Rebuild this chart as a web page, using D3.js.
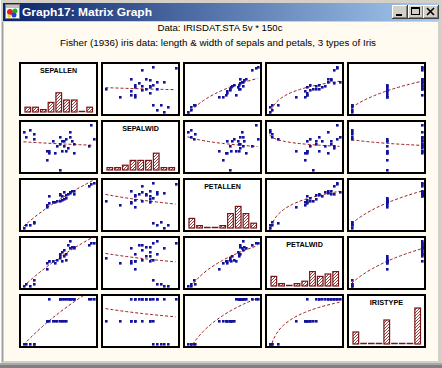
<!DOCTYPE html>
<html><head><meta charset="utf-8">
<script src="https://cdn.jsdelivr.net/npm/d3@7"></script>
<style>html,body{margin:0;padding:0;background:#fff;overflow:hidden}</style>
</head><body>
<svg id="c" width="442" height="368"></svg>
<script>
// ---------- data ----------
const varNames  = ["SEPALLEN","SEPALWID","PETALLEN","PETALWID","IRISTYPE"];
const sepalLen  = [4.4,4.5,4.7,4.9,4.9, 5.5,5.5,5.6,5.8,5.9,6.0,6.1,6.2,6.3,6.4, 5.6,6.1,6.1,6.2,6.3,6.4,6.6,6.7,6.8,6.8,7.5,7.6,7.7,6.6,6.5];
const sepalWid  = [3.8,3.6,3.9,3.5,3.7, 3.0,2.6,2.9,3.4,2.9,3.2,2.2,3.0,3.4,3.5, 3.0,3.3,3.6,3.4,3.2,3.0,3.8,3.4,3.3,2.9,3.2,4.1,3.5,3.6,3.1];
const petalLen  = [1.4,1.7,1.7,1.9,2.0, 3.8,4.1,4.3,4.4,4.4,4.6,4.6,4.7,4.8,4.9, 5.1,5.3,5.4,5.2,5.6,5.3,5.5,5.7,5.4,5.8,6.3,6.6,6.7,5.6,5.4];
const petalWid  = [0.1,0.2,0.1,0.4,0.2, 1.0,1.3,1.4,1.4,1.3,1.5,1.6,1.4,1.7,1.5, 1.4,1.7,1.8,1.9,2.0,1.8,2.1,2.2,2.2,2.1,2.3,2.4,2.4,2.5,2.3];
const irisType  = [1,1,1,1,1, 2,2,2,2,2,2,2,2,2,2, 3,3,3,3,3,3,3,3,3,3,3,3,3,3,3];
// histogram counts (9 bins each)
const histSepalLen = [2,2,1,4,8,5,5,0,2];
const histSepalWid = [1,1,2,4,4,4,7,1,1];
const histPetalLen = [4,1,0,0,1,6,9,6,2];
const histPetalWid = [4,1,0,1,2,6,4,5,6];
const histIrisType = [5,0,0,0,10,0,0,0,15];
const windowTitle = "Graph17: Matrix Graph";
const subTitle1 = "Data: IRISDAT.STA 5v * 150c";
const subTitle2 = "Fisher (1936) iris data: length & width of sepals and petals, 3 types of Iris";

// ---------- drawing ----------
const vars  = [sepalLen, sepalWid, petalLen, petalWid, irisType];
const hists = [histSepalLen, histSepalWid, histPetalLen, histPetalWid, histIrisType];
const labelLen = [37, 36.7, 36.7, 36.7, 33.3];

const svg = d3.select("#c");
const defs = svg.append("defs");
const grad = defs.append("linearGradient").attr("id","tb");
grad.append("stop").attr("offset","0%").attr("stop-color","#0a246a");
grad.append("stop").attr("offset","100%").attr("stop-color","#a6caf0");
const pat = defs.append("pattern").attr("id","hatch").attr("patternUnits","userSpaceOnUse")
  .attr("width",3).attr("height",3);
pat.append("rect").attr("width",3).attr("height",3).attr("fill","#fff");
pat.append("path").attr("d","M-1,1 L1,-1 M0,3 L3,0 M2,4 L4,2")
  .attr("stroke","#8a2a2a").attr("stroke-width",0.9);

// window frame
svg.append("rect").attr("width",442).attr("height",368).attr("fill","#d4d0c8");
svg.append("line").attr("x1",0.5).attr("y1",0).attr("x2",0.5).attr("y2",368).attr("stroke","#ffffff");
svg.append("line").attr("x1",2.5).attr("y1",22).attr("x2",2.5).attr("y2",362).attr("stroke","#a0a0a0");
svg.append("rect").attr("x",3).attr("y",3).attr("width",436).attr("height",18).attr("fill","url(#tb)");
svg.append("rect").attr("x",4).attr("y",22).attr("width",434).attr("height",339).attr("fill","#fffbf0");
svg.append("rect").attr("x",0).attr("y",363).attr("width",442).attr("height",2).attr("fill","#a8a8a8");
svg.append("rect").attr("x",0).attr("y",365).attr("width",442).attr("height",3).attr("fill","#808080");

// icon
const ic = svg.append("g").attr("transform","translate(5,4)");
ic.append("rect").attr("x",0.5).attr("y",0.5).attr("width",14).attr("height",14).attr("fill","#ffffff").attr("stroke","#808080");
ic.append("rect").attr("x",1).attr("y",1).attr("width",13).attr("height",3).attr("fill","#c0c0c0");
ic.append("circle").attr("cx",5).attr("cy",8).attr("r",3).attr("fill","#e02020");
ic.append("circle").attr("cx",10).attr("cy",7).attr("r",2.5).attr("fill","#20b020");
ic.append("circle").attr("cx",9).attr("cy",11).attr("r",2.5).attr("fill","#2040e0");
ic.append("circle").attr("cx",4).attr("cy",12).attr("r",1.8).attr("fill","#f0d020");

svg.append("text").attr("x",22).attr("y",16).attr("fill","#ffffff")
  .attr("font-family","Liberation Sans, Arial, sans-serif").attr("font-weight","bold")
  .attr("font-size",11).attr("textLength",130).attr("lengthAdjust","spacingAndGlyphs").text(windowTitle);

// caption buttons
function btn(x, kind){
  const g = svg.append("g").attr("transform",`translate(${x},5)`);
  g.append("rect").attr("width",16).attr("height",14).attr("fill","#404040");
  g.append("rect").attr("width",15).attr("height",13).attr("fill","#ffffff");
  g.append("rect").attr("x",1).attr("y",1).attr("width",14).attr("height",12).attr("fill","#808080");
  g.append("rect").attr("x",1).attr("y",1).attr("width",13).attr("height",11).attr("fill","#d4d0c8");
  if (kind==="min") g.append("rect").attr("x",4).attr("y",9).attr("width",6).attr("height",2).attr("fill","#000");
  if (kind==="max"){ g.append("rect").attr("x",3.5).attr("y",2.5).attr("width",8).attr("height",7).attr("fill","none").attr("stroke","#000");
    g.append("rect").attr("x",3).attr("y",2).attr("width",9).attr("height",2).attr("fill","#000"); }
  if (kind==="close") g.append("path").attr("d","M4,3 L11,10 M11,3 L4,10").attr("stroke","#000").attr("stroke-width",1.6);
}
btn(392,"min"); btn(408,"max"); btn(423,"close");

svg.append("text").attr("x",220).attr("y",31).attr("text-anchor","middle")
  .attr("font-family","Liberation Sans, Arial, sans-serif").attr("font-size",8.5)
  .attr("textLength",125).attr("lengthAdjust","spacingAndGlyphs").text(subTitle1);
svg.append("text").attr("x",218).attr("y",46).attr("text-anchor","middle")
  .attr("font-family","Liberation Sans, Arial, sans-serif").attr("font-size",8.5)
  .attr("textLength",316).attr("lengthAdjust","spacingAndGlyphs").text(subTitle2);

const W = 79, H = 54;
const colX = c => 19 + c*82, rowY = r => 62 + r*58;

function logFit(xs, ys){
  const X = xs.map(Math.log);
  const mx = d3.mean(X), my = d3.mean(ys);
  let sxy = 0, sxx = 0;
  X.forEach((v,i)=>{ sxy += (v-mx)*(ys[i]-my); sxx += (v-mx)*(v-mx); });
  const b = sxy/sxx, a = my - b*mx;
  return x => a + b*Math.log(x);
}

for (let r=0; r<5; r++){
  for (let c=0; c<5; c++){
    const g = svg.append("g").attr("transform",`translate(${colX(c)},${rowY(r)})`);
    const cid = `clip${r}${c}`;
    defs.append("clipPath").attr("id",cid).append("rect").attr("x",2).attr("y",2).attr("width",W-4).attr("height",H-4);
    g.append("rect").attr("x",1).attr("y",1).attr("width",W-2).attr("height",H-2)
      .attr("fill","#ffffff").attr("stroke","#000").attr("stroke-width",2);
    if (r===c){
      const counts = hists[r];
      const bx = d3.scaleBand().domain(d3.range(counts.length)).range([6, 6+counts.length*7.5]).paddingInner(0.27).paddingOuter(0);
      const hy = d3.scaleLinear().domain([0,15]).range([0,36]);
      const base = H-4;
      g.selectAll("rect.bar").data(counts).join("rect").attr("class","bar")
        .attr("x",(d,i)=>bx(i)).attr("width",bx.bandwidth())
        .attr("y",d=>base-hy(d)).attr("height",d=>hy(d))
        .attr("fill","url(#hatch)").attr("stroke","#7a1414").attr("stroke-width",1.2)
        .attr("display",d=>d>0?null:"none");
      g.selectAll("line.zero").data(counts.map((d,i)=>({d,i})).filter(o=>o.d===0)).join("line").attr("class","zero")
        .attr("x1",o=>bx(o.i)-0.5).attr("x2",o=>bx(o.i)+bx.bandwidth()+0.5)
        .attr("y1",base-0.5).attr("y2",base-0.5).attr("stroke","#7a1414").attr("stroke-width",1.5);
      g.append("text").attr("x",W/2).attr("y",10.5).attr("text-anchor","middle")
        .attr("font-family","Liberation Sans, Arial, sans-serif").attr("font-weight","bold")
        .attr("font-size",7).attr("textLength",labelLen[r]).attr("lengthAdjust","spacingAndGlyphs")
        .text(varNames[r]);
    } else {
      const xs = vars[c], ys = vars[r];
      const x = d3.scaleLinear().domain(d3.extent(xs)).range([4.5, W-4.5]);
      const y = d3.scaleLinear().domain(d3.extent(ys)).range([H-4.5, 5]);
      const f = logFit(xs, ys);
      const [x0,x1] = d3.extent(xs);
      const pts = d3.range(0,41).map(k=>{ const xv = x0+(x1-x0)*k/40; return [x(xv), y(f(xv))]; });
      const inner = g.append("g").attr("clip-path",`url(#${cid})`);
      inner.append("path").attr("d",d3.line()(pts)).attr("fill","none")
        .attr("stroke","#9a1c1c").attr("stroke-width",1).attr("stroke-dasharray","3,2");
      inner.selectAll("rect.pt").data(xs.map((v,i)=>[v,ys[i]])).join("rect").attr("class","pt")
        .attr("x",d=>Math.round(x(d[0]))-1).attr("y",d=>Math.round(y(d[1]))-1)
        .attr("width",2.6).attr("height",2.6).attr("fill","#12129a");
    }
  }
}
</script>
</body></html>
